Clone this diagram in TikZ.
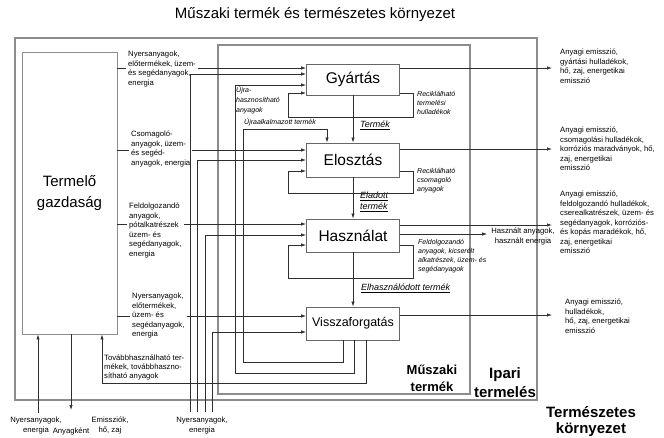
\documentclass[tikz,border=0pt]{standalone}
\usepackage{fontspec}
\setmainfont{Liberation Sans}
\usetikzlibrary{arrows.meta, calc, positioning}
\definecolor{lGrey}{HTML}{2E2E2E}
\definecolor{bGrey}{HTML}{666666}
\definecolor{fGrey}{HTML}{8C8C8C}
\newcommand{\fsz}[2]{\fontsize{#1}{#2}\selectfont}

\begin{document}
\begin{tikzpicture}[x=1pt, y=-1pt, >={Latex[length=5pt, width=3.4pt]},
  conn/.style={draw=lGrey, line width=0.7pt},
  flow/.style={conn, ->},
  procbox/.style={draw=bGrey, line width=0.9pt, fill=white, minimum width=93pt, inner sep=0pt},
  frame/.style={draw=fGrey, line width=1.1pt},
  note/.style={font=\fsz{7.7}{9.5}, align=left, inner ysep=0pt, inner xsep=2pt, anchor=north west},
  emis/.style={note, inner xsep=8pt},
  side/.style={font=\fsz{7}{9}\itshape, align=left, inner sep=0pt, anchor=north west},
  prod/.style={font=\fsz{9}{10.5}\itshape, align=left, inner sep=0pt, anchor=north west},
  foot/.style={font=\fsz{7.7}{10}, align=center, inner sep=0pt, anchor=north},
]
  \useasboundingbox (0,0) rectangle (664,437);
  \node[font=\fsz{15}{18}] (title) at (315,15) {Műszaki termék és természetes környezet};

  % frames
  \node[frame, minimum width=522pt, minimum height=362pt] (ipari) at (276,219) {};
  \node[frame, minimum width=252pt, minimum height=349pt] (muszaki) at (344,219.5) {};
  \node[font=\fsz{13}{17}\bfseries, align=center] (mlab) at (432,378) {Műszaki\\termék};
  \node[font=\fsz{15}{19}\bfseries, align=center] (ilab) at (505,383) {Ipari\\termelés};

  \node[draw=fGrey, line width=0.9pt, minimum width=95pt, minimum height=282pt,
        font=\fsz{15}{21}, align=center] (termelo) at (69.5,193) {Termelő\\gazdaság};

  % process chain
  \node[procbox, minimum height=31pt, font=\fsz{15.5}{18}] (gyartas) at (353,79.5) {Gyártás};
  \node[procbox, minimum height=34pt, font=\fsz{15.5}{18}] (elosztas) at (353,160) {Elosztás};
  \node[procbox, minimum height=33pt, font=\fsz{15.5}{18}] (hasznalat) at (353,235.5) {Használat};
  \node[procbox, minimum height=33pt, font=\fsz{12.5}{15}] (vissza) at (353,323.5) {Visszaforgatás};

  \draw[flow] (gyartas) -- (elosztas);
  \draw[flow] (elosztas) -- (hasznalat);
  \draw[flow] (hasznalat) -- (vissza);
  \node[prod] (p1) at (360,121) {\underline{Termék}};
  \node[prod] (p2) at (360,192) {\underline{Eladott}\\\underline{termék}};
  \node[prod] (p3) at (361,284) {\underline{Elhasználódott termék}};

  % inputs from the economy
  \node[note] (in1) at (126,51) {Nyersanyagok,\\előtermékek, üzem-\\és segédanyagok,\\energia};
  \node[note] (in2) at (129,131) {Csomagoló-\\anyagok, üzem-\\és segéd-\\anyagok, energia};
  \node[note] (in3) at (127,203) {Feldolgozandó\\anyagok,\\pótalkatrészek\\üzem- és\\segédanyagok,\\energia};
  \node[note] (in4) at (130,293) {Nyersanyagok,\\előtermékek,\\üzem- és\\segédanyagok,\\energia};
  \foreach \n/\t/\y in {in1/gyartas/68, in2/elosztas/150, in3/hasznalat/224, in4/vissza/316} {
    \draw[conn] (termelo.east |- 0,\y) -- (\n.west |- 0,\y);
    \draw[flow] (\n.east |- 0,\y) -- (\t.west |- 0,\y);
  }

  % raw materials from below
  \foreach \x/\t/\y [count=\i] in {190/gyartas/74, 197/elosztas/160, 205/hasznalat/235, 212/vissza/332} {
    \coordinate (raw\i) at (\x,412);
    \draw[flow] (raw\i) |- (\t.west |- 0,\y);
  }
  \node[foot] (rawlab) at (202,416.5) {Nyersanyagok,\\energia};

  % recycling loops
  \foreach \t/\y/\d in {gyartas/93/24, elosztas/171/22, hasznalat/245/33}
    \draw[flow] (\t.east |- 0,\y) -- ++(13,0) -- ++(0,\d) -- ++(-125,0) -- ++(0,-\d) -- (\t.west |- 0,\y);
  \node[side] (rec1) at (417,91) {Reciklálható\\termelési\\hulladékok};
  \node[side] (rec2) at (417,168) {Reciklálható\\csomagoló\\anyagok};
  \node[side] (rec3) at (418,239) {Feldolgozandó\\anyagok, kicserélt\\alkatrészek, üzem- és\\segédanyagok};

  % back from Visszaforgatás
  \draw[flow] (vissza.south -| 343,0) |- (243,362) |- (327,129) -- (elosztas.north -| 327,0);
  \draw[flow] (vissza.south -| 354,0) |- (235,373) |- (gyartas.west |- 0,85);
  \draw[flow] (vissza.south -| 366,0) |- (102,383) -- (termelo.south -| 102,0);
  \node[side] (reuse) at (244,118) {Újraalkalmazott termék};
  \node[side, font=\fsz{7}{10}\itshape] (recyc) at (236,86) {Újra-\\hasznosítható\\anyagok};
  \node[note, font=\fsz{7.7}{9}] (further) at (102,355) {Továbbhasználható ter-\\mékek, továbbhaszno-\\sítható anyagok};

  % emissions
  \node[emis] (out1) at (552,49) {Anyagi emisszió,\\gyártási hulladékok,\\hő, zaj, energetikai\\emisszió};
  \node[emis] (out2) at (552,127) {Anyagi emisszió,\\csomagolási hulladékok,\\korróziós maradványok, hő,\\zaj, energetikai\\emisszió};
  \node[emis] (out3) at (552,191) {Anyagi emisszió,\\feldolgozandó hulladékok,\\cserealkatrészek, üzem- és\\segédanyagok, korróziós-\\és kopás maradékok, hő,\\zaj, energetikai\\emisszió};
  \node[emis, inner xsep=13pt] (out4) at (552,299) {Anyagi emisszió,\\hulladékok,\\hő, zaj, energetikai\\emisszió};
  \draw[flow] (gyartas.east |- 0,68) -- (out1.west |- 0,68);
  \draw[flow] (elosztas.east |- 0,149) -- (out2.west |- 0,149);
  \draw[flow] (hasznalat.east |- 0,225) -- (out3.west |- 0,225);
  \draw[flow] (vissza.east |- 0,315) -- (out4.west |- 0,315);
  \node[font=\fsz{7.7}{9.5}, align=center, inner ysep=0pt, inner xsep=4pt, anchor=north] (used) at (523,228) {Használt anyagok,\\használt energia};
  \draw[flow] (hasznalat.east |- 0,234) -- (used.west |- 0,234);

  % bottom left
  \coordinate (rawl) at (38,413);
  \coordinate (matout) at (71,410);
  \draw[flow] (rawl) -- (termelo.south -| 38,0);
  \draw[flow] (termelo.south -| 71,0) -- (matout);
  \node[foot] (rawllab) at (36,416.5) {Nyersanyagok,\\energia};
  \node[foot] (matlab) at (71,428) {Anyagként};
  \node[foot] (emlab) at (110,416.5) {Emissziók,\\hő, zaj};
  \node[font=\fsz{15}{15.5}\bfseries, align=center, anchor=north] (envlab) at (591,403) {Természetes\\környezet};
\end{tikzpicture}
\end{document}
